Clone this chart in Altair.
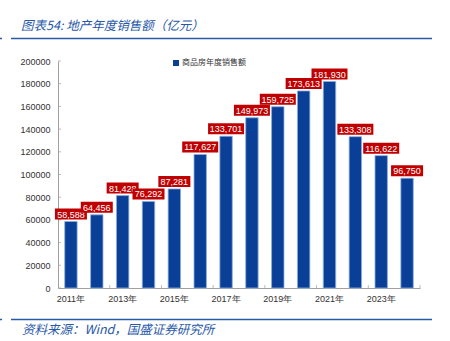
import altair as alt
import pandas as pd

years = ["2011年", "2012年", "2013年", "2014年", "2015年", "2016年", "2017年",
         "2018年", "2019年", "2020年", "2021年", "2022年", "2023年", "2024年"]
values = [58588, 64456, 81428, 76292, 87281, 117627, 133701,
          149973, 159725, 173613, 181930, 133308, 116622, 96750]
series_name = "商品房年度销售额"
label_years = ["2011年", "2013年", "2015年", "2017年", "2019年", "2021年", "2023年"]
tick_years = ["2012年", "2014年", "2016年", "2018年", "2020年", "2022年", "2024年"]
y_ticks = [0, 20000, 40000, 60000, 80000, 100000, 120000, 140000, 160000, 180000, 200000]
title_text = "图表54: 地产年度销售额（亿元）"
source_text = "资料来源：Wind，国盛证券研究所"

W, H = 362, 227
PL, PT = 58, 61
BAR = "#0a3f97"
RED = "#c00000"
LINE = "#2858a8"
FONT = "Liberation Sans"
CJK = "Noto Sans CJK SC"

df = pd.DataFrame({"year": years, "value": values, "series": [series_name] * len(years)})
df["label"] = df["value"].map(lambda v: f"{v:,}")

xscale = alt.Scale(domain=years, paddingInner=0, paddingOuter=0)
yscale = alt.Scale(domain=[0, 200000])
xaxis = alt.Axis(values=label_years, labelAngle=0, ticks=False, labelPadding=6,
                 labelFont=FONT, labelFontSize=9, labelColor="#333333",
                 labelOverlap=False, title=None,
                 domainColor="#a0a0a0", domainWidth=1, grid=False)
yaxis = alt.Axis(values=y_ticks, format="d", ticks=False, labelPadding=8, labelFont=FONT,
                 labelFontSize=9, labelColor="#333333", domainColor="#a0a0a0",
                 labelOverlap=False, labelFlush=False, title=None,
                 domainWidth=1, grid=False)

base = alt.Chart(df)

bars = base.mark_bar(width=alt.RelativeBandSize(0.48), stroke="#8eaede", strokeWidth=0.8).encode(
    x=alt.X("year:N", scale=xscale, sort=years, axis=xaxis, title=None),
    y=alt.Y("value:Q", scale=yscale, axis=yaxis, title=None),
    color=alt.Color("series:N", scale=alt.Scale(range=[BAR]),
                    legend=alt.Legend(title=None, orient="none", legendX=114, legendY=-2,
                                      symbolType="square", symbolSize=36, symbolStrokeWidth=0,
                                      labelFont=CJK, labelFontSize=8, labelColor="#333333",
                                      labelOffset=2, padding=0)),
)

xt = alt.Chart(pd.DataFrame({"year": tick_years})).mark_tick(
    orient="vertical", size=3, thickness=1, color="#a0a0a0").encode(
    x=alt.X("year:N", scale=xscale, sort=years, bandPosition=1, axis=xaxis, title=None),
    y=alt.value(H - 1.5),
)
yt = alt.Chart(pd.DataFrame({"v": y_ticks})).mark_tick(
    orient="horizontal", size=3, thickness=1, color="#a0a0a0").encode(
    y=alt.Y("v:Q", scale=yscale, axis=yaxis, title=None),
    x=alt.value(1.5),
)

label_layers = []
for yr, lab in zip(years, df["label"]):
    bw = 32 if len(lab) <= 6 else 36
    h = 11 / bw
    path = f"M-1,-{h:.4f}L1,-{h:.4f}L1,{h:.4f}L-1,{h:.4f}Z"
    sub = base.transform_filter(alt.datum.year == yr)
    box = sub.mark_point(shape=path, size=bw * bw, filled=True, color=RED, opacity=1,
                         strokeWidth=0, yOffset=-7.5).encode(
        x=alt.X("year:N", scale=xscale, sort=years, axis=xaxis, title=None),
        y=alt.Y("value:Q", scale=yscale, axis=yaxis, title=None),
    )
    txt = sub.mark_text(font=FONT, fontSize=9, color="white", baseline="middle",
                        align="center", yOffset=-7).encode(
        x=alt.X("year:N", scale=xscale, sort=years, axis=xaxis, title=None),
        y=alt.Y("value:Q", scale=yscale, axis=yaxis, title=None),
        text="label:N",
    )
    label_layers += [box, txt]

deco_df = pd.DataFrame({"k": [0]})
deco = alt.Chart(deco_df)
title = deco.mark_text(text=title_text, font=CJK, fontSize=12.5, fontStyle="italic",
                       color=LINE, align="left", baseline="alphabetic").encode(
    x=alt.value(21 - PL), y=alt.value(30 - PT))
source = deco.mark_text(text=source_text, font=CJK, fontSize=12.5, fontStyle="italic",
                        color=LINE, align="left", baseline="alphabetic").encode(
    x=alt.value(22 - PL), y=alt.value(334 - PT))
line1 = deco.mark_rule(color=LINE, strokeWidth=1.6).encode(
    x=alt.value(11 - PL), x2=alt.value(432 - PL), y=alt.value(38.5 - PT))
line2 = deco.mark_rule(color=LINE, strokeWidth=1.6).encode(
    x=alt.value(11 - PL), x2=alt.value(432 - PL), y=alt.value(319.5 - PT))
dot1 = deco.mark_rule(color=LINE, strokeWidth=1.6).encode(
    x=alt.value(0 - PL), x2=alt.value(2 - PL), y=alt.value(38.5 - PT))
dot2 = deco.mark_rule(color=LINE, strokeWidth=1.6).encode(
    x=alt.value(0 - PL), x2=alt.value(2 - PL), y=alt.value(319.5 - PT))

chart = alt.layer(bars, xt, yt, *label_layers, title, source, line1, line2, dot1, dot2).properties(
    width=W, height=H,
    autosize=alt.AutoSizeParams(type="none"),
    padding={"left": PL, "top": PT, "right": 450 - PL - W, "bottom": 341 - PT - H},
    background="white",
).configure_view(stroke=None)

chart.save("out.html", embed_options={"renderer": "svg", "actions": False})
